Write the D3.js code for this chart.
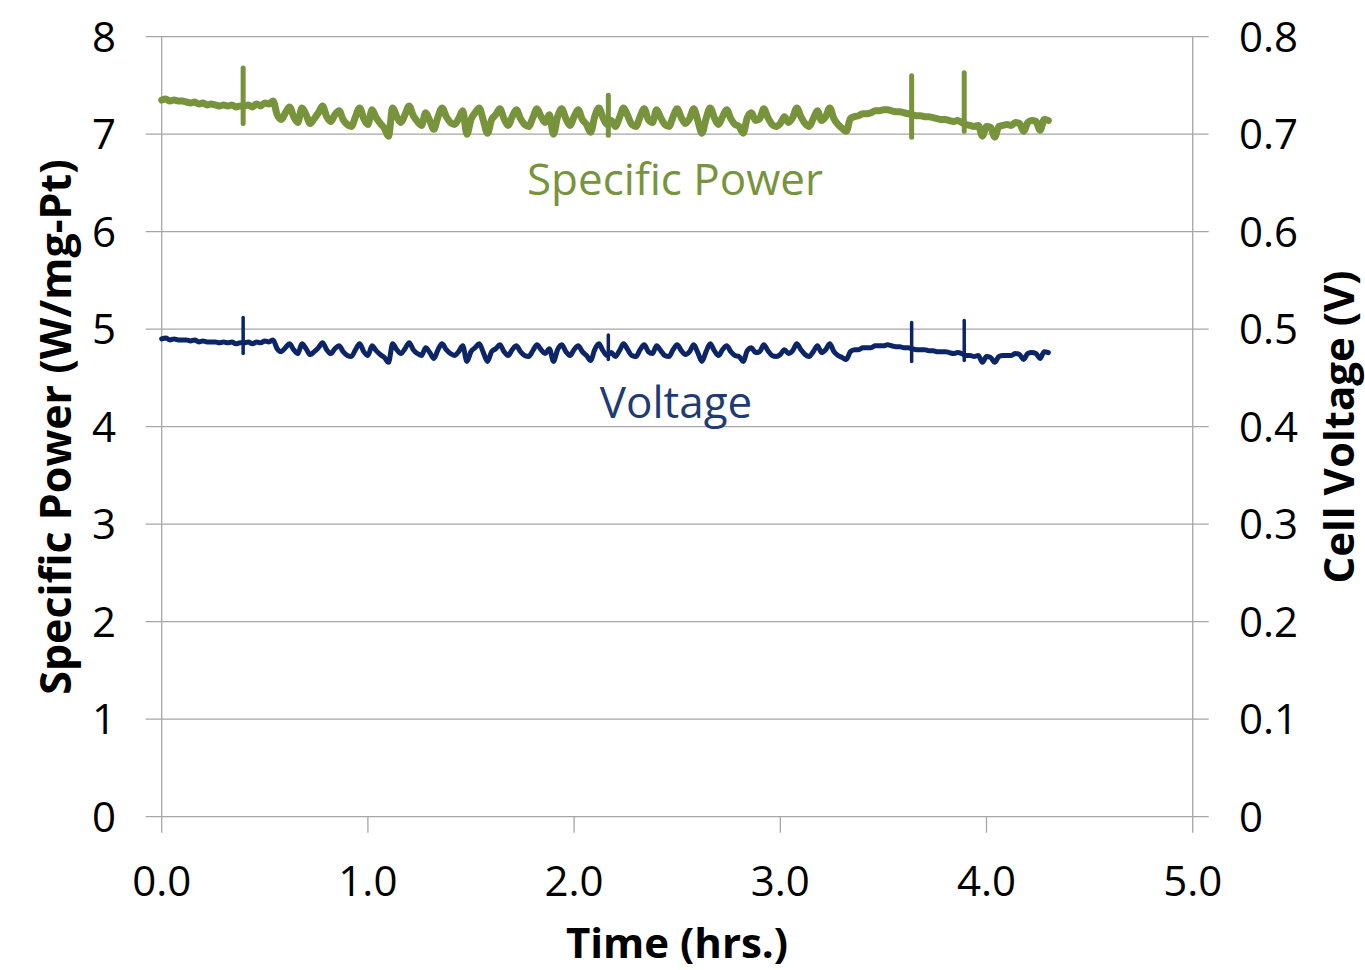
<!DOCTYPE html>
<html>
<head>
<meta charset="utf-8">
<script src="https://cdn.jsdelivr.net/npm/d3@7"></script>
<style>
  html, body { margin: 0; padding: 0; background: #fff; }
  svg { display: block; }
  text { font-family: "Open Sans", "Noto Sans", sans-serif; }
</style>
</head>
<body>
<svg id="chart" width="1365" height="970"></svg>
<script>
// ---------------- DATA ----------------
const timeStep = 0.02; // hours between samples, starting at 0.0
const powerValues = [
  7.35,7.36,7.34,7.35,7.34,7.34,7.33,7.32,7.33,7.31,7.32,7.30,7.31,7.30,7.29,7.30,7.29,7.30,7.28,7.29,
  7.29,7.30,7.28,7.31,7.29,7.32,7.31,7.34,
  7.20,7.15,7.22,7.28,7.18,7.12,7.27,7.20,7.11,7.16,7.22,7.29,
  7.18,7.13,7.20,7.24,7.15,7.10,7.08,7.18,7.27,7.16,
  7.10,7.25,7.17,7.11,7.06,6.98,7.27,7.18,7.12,7.20,
  7.29,7.19,7.13,7.09,7.22,7.14,7.05,7.18,7.27,7.18,
  7.12,7.10,7.16,7.24,7.00,7.15,7.22,7.27,7.14,7.01,
  7.15,7.20,7.26,7.16,7.09,7.18,7.25,7.16,7.10,7.08,
  7.17,7.26,7.18,7.12,7.20,7.00,7.18,7.26,7.16,7.09,
  7.18,7.25,7.15,7.10,7.02,7.18,7.27,7.17,7.10,7.14,
  7.08,7.17,7.27,7.19,7.10,7.08,7.18,7.26,7.15,7.12,
  7.25,7.17,7.10,7.08,7.18,7.26,7.17,7.11,7.16,7.26,
  7.14,7.01,7.16,7.27,7.17,7.10,7.18,7.25,7.16,7.10,
  7.08,7.01,7.17,7.22,7.14,7.16,7.26,7.17,7.10,7.08,
  7.11,7.18,7.12,7.17,7.27,7.18,7.11,7.08,7.16,7.24,
  7.14,7.18,7.27,7.16,7.10,7.06,7.03,
  7.16,7.18,7.19,7.21,7.21,7.22,7.24,7.24,7.25,7.25,7.24,7.23,7.23,7.22,7.21,7.20,7.19,7.19,7.18,7.18,
  7.17,7.16,7.15,7.15,7.14,7.13,7.14,7.12,7.10,7.09,7.08,7.09,6.98,7.08,7.07,6.97,7.08,7.09,7.10,7.09,
  7.12,7.11,7.03,7.12,7.14,7.13,7.04,7.15,7.14
];
const voltageValues = [
  .490,.491,.489,.490,.489,.489,.489,.488,.489,.487,.488,.487,.487,.487,.486,.487,.486,.487,.485,.486,
  .486,.487,.485,.487,.486,.488,.487,.489,
  .480,.477,.481,.485,.479,.475,.485,.480,.474,.477,.481,.486,
  .479,.475,.480,.483,.477,.473,.472,.479,.485,.477,
  .473,.483,.478,.474,.471,.466,.485,.479,.475,.480,
  .486,.479,.475,.473,.481,.476,.470,.479,.485,.479,
  .475,.473,.477,.483,.467,.477,.481,.485,.476,.467,
  .477,.480,.484,.477,.473,.479,.483,.477,.473,.472,
  .478,.484,.479,.475,.480,.467,.479,.484,.477,.473,
  .479,.483,.477,.473,.468,.479,.485,.478,.473,.476,
  .472,.478,.485,.479,.473,.472,.479,.484,.477,.475,
  .483,.478,.473,.472,.479,.484,.478,.474,.477,.484,
  .476,.467,.477,.485,.478,.473,.479,.483,.477,.473,
  .472,.467,.478,.481,.476,.477,.484,.478,.473,.472,
  .474,.479,.475,.478,.485,.479,.474,.472,.477,.483,
  .476,.479,.485,.477,.473,.471,.469,
  .477,.479,.479,.481,.481,.481,.483,.483,.483,.484,.483,.482,.482,.481,.481,.480,.479,.479,.479,.478,
  .478,.477,.477,.477,.476,.475,.476,.475,.473,.473,.472,.473,.466,.472,.471,.466,.472,.473,.473,.473,
  .475,.474,.469,.475,.476,.475,.470,.477,.476
];
// spikes (time, high, low)
const spikeTimes        = [0.395, 2.166, 3.637, 3.892];
const powerSpikeHigh    = [7.68, 7.40, 7.60, 7.63];
const powerSpikeLow     = [7.11, 6.99, 6.97, 7.03];
const voltageSpikeHigh  = [0.512, 0.494, 0.507, 0.509];
const voltageSpikeLow   = [0.475, 0.469, 0.467, 0.468];

const xTicks = [0, 1, 2, 3, 4, 5];
const xTickLabels = ["0.0", "1.0", "2.0", "3.0", "4.0", "5.0"];
const leftTicks = [0, 1, 2, 3, 4, 5, 6, 7, 8];
const leftTickLabels = ["0", "1", "2", "3", "4", "5", "6", "7", "8"];
const rightTicks = [0, 0.1, 0.2, 0.3, 0.4, 0.5, 0.6, 0.7, 0.8];
const rightTickLabels = ["0", "0.1", "0.2", "0.3", "0.4", "0.5", "0.6", "0.7", "0.8"];

const xTitle = "Time (hrs.)";
const leftTitle = "Specific Power (W/mg-Pt)";
const rightTitle = "Cell Voltage (V)";
const powerLabel = "Specific Power";
const voltageLabel = "Voltage";

// ---------------- LAYOUT ----------------
const svg = d3.select("#chart");
const L = 161.7, R = 1192.7, T = 36.7, B = 816.7;
const x = d3.scaleLinear().domain([0, 5]).range([L, R]);
const yL = d3.scaleLinear().domain([0, 8]).range([B, T]);
const yR = d3.scaleLinear().domain([0, 0.8]).range([B, T]);
const gridColor = "#a6a6a6";
const green = "#77933c";
const navy = "#0b2566";

// gridlines (with outward ticks on both sides)
svg.append("g").selectAll("line").data(leftTicks).join("line")
  .attr("x1", L - 16).attr("x2", R + 16)
  .attr("y1", d => yL(d)).attr("y2", d => yL(d))
  .attr("stroke", gridColor).attr("stroke-width", 1.3);

// vertical axis lines and x ticks
svg.append("g").selectAll("line").data(xTicks).join("line")
  .attr("x1", d => x(d)).attr("x2", d => x(d))
  .attr("y1", d => (d === 0 || d === 5) ? T : B).attr("y2", B + 16)
  .attr("stroke", gridColor).attr("stroke-width", 1.3);

// tick labels
const tickFont = 42;
svg.append("g").selectAll("text").data(leftTicks).join("text")
  .attr("x", 116).attr("y", d => yL(d) + 15)
  .attr("text-anchor", "end").attr("font-size", tickFont).attr("fill", "#000")
  .text((d, i) => leftTickLabels[i]);
svg.append("g").selectAll("text").data(rightTicks).join("text")
  .attr("x", 1239).attr("y", d => yR(d) + 15)
  .attr("text-anchor", "start").attr("font-size", tickFont).attr("fill", "#000")
  .text((d, i) => rightTickLabels[i]);
svg.append("g").selectAll("text").data(xTicks).join("text")
  .attr("x", d => x(d)).attr("y", 896)
  .attr("text-anchor", "middle").attr("font-size", tickFont).attr("fill", "#000")
  .text((d, i) => xTickLabels[i]);

// axis titles
svg.append("text").attr("x", 677).attr("y", 958)
  .attr("text-anchor", "middle").attr("font-size", 42).attr("font-weight", "bold")
  .text(xTitle);
svg.append("text").attr("transform", "translate(71,427) rotate(-90)")
  .attr("text-anchor", "middle").attr("font-size", 43).attr("font-weight", "bold")
  .text(leftTitle);
svg.append("text").attr("transform", "translate(1354,427) rotate(-90)")
  .attr("text-anchor", "middle").attr("font-size", 42).attr("font-weight", "bold")
  .text(rightTitle);

// series lines (smoothed) + spikes
const powerSeries = powerValues.map((v, i) => ({ t: i * timeStep, v }));
const voltageSeries = voltageValues.map((v, i) => ({ t: i * timeStep, v }));

svg.append("path").datum(powerSeries)
  .attr("fill", "none").attr("stroke", green).attr("stroke-width", 7)
  .attr("stroke-linejoin", "round").attr("stroke-linecap", "round")
  .attr("d", d3.line().curve(d3.curveMonotoneX).x(d => x(d.t)).y(d => yL(d.v)));
svg.append("g").selectAll("line").data(spikeTimes).join("line")
  .attr("x1", d => x(d)).attr("x2", d => x(d))
  .attr("y1", (d, i) => yL(powerSpikeHigh[i])).attr("y2", (d, i) => yL(powerSpikeLow[i]))
  .attr("stroke", green).attr("stroke-width", 5).attr("stroke-linecap", "round");

svg.append("path").datum(voltageSeries)
  .attr("fill", "none").attr("stroke", navy).attr("stroke-width", 5)
  .attr("stroke-linejoin", "round").attr("stroke-linecap", "round")
  .attr("d", d3.line().curve(d3.curveMonotoneX).x(d => x(d.t)).y(d => yR(d.v)));
svg.append("g").selectAll("line").data(spikeTimes).join("line")
  .attr("x1", d => x(d)).attr("x2", d => x(d))
  .attr("y1", (d, i) => yR(voltageSpikeHigh[i])).attr("y2", (d, i) => yR(voltageSpikeLow[i]))
  .attr("stroke", navy).attr("stroke-width", 3.5).attr("stroke-linecap", "round");

// series labels
svg.append("text").attr("x", 675).attr("y", 195)
  .attr("text-anchor", "middle").attr("font-size", 44).attr("fill", green)
  .text(powerLabel);
svg.append("text").attr("x", 676).attr("y", 418)
  .attr("text-anchor", "middle").attr("font-size", 44).attr("fill", "#1f3b73")
  .text(voltageLabel);
</script>
</body>
</html>
